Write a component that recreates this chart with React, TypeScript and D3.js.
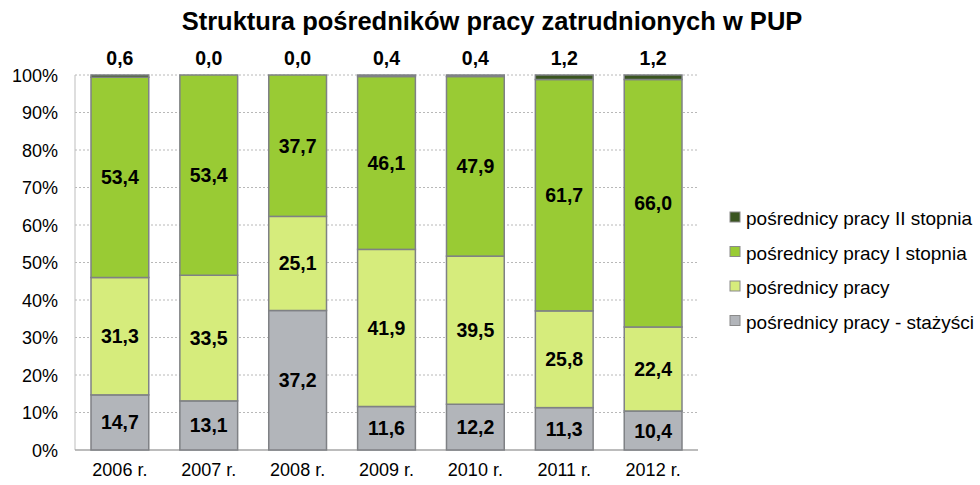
import React, { useEffect, useRef } from "react";
import * as d3 from "d3";

const years = ["2006 r.", "2007 r.", "2008 r.", "2009 r.", "2010 r.", "2011 r.", "2012 r."];
const stazysci = [14.7, 13.1, 37.2, 11.6, 12.2, 11.3, 10.4];
const posrednicy = [31.3, 33.5, 25.1, 41.9, 39.5, 25.8, 22.4];
const pierwszyStopien = [53.4, 53.4, 37.7, 46.1, 47.9, 61.7, 66.0];
const drugiStopien = [0.6, 0.0, 0.0, 0.4, 0.4, 1.2, 1.2];
const yTicks = [0, 10, 20, 30, 40, 50, 60, 70, 80, 90, 100];

const seriesNames = [
  "pośrednicy pracy - stażyści",
  "pośrednicy pracy",
  "pośrednicy pracy I stopnia",
  "pośrednicy pracy II stopnia",
];
const colors = ["#b2b5ba", "#d6ec7c", "#99cb34", "#3a5520"];

function App() {
  const ref = useRef<SVGSVGElement>(null);

  useEffect(() => {
    const svg = d3.select(ref.current);
    svg.selectAll("*").remove();

    const width = 980;
    const height = 485;
    const margin = { left: 75, right: 282, top: 75, bottom: 35 };
    const font = "'Liberation Sans', Arial, sans-serif";

    const rows = years.map((y, i) => ({
      year: y,
      s0: stazysci[i],
      s1: posrednicy[i],
      s2: pierwszyStopien[i],
      s3: drugiStopien[i],
    }));
    const keys = ["s0", "s1", "s2", "s3"];
    const stacked = d3.stack<any>().keys(keys)(rows);

    const x = d3.scaleBand()
      .domain(years)
      .range([margin.left, width - margin.right])
      .paddingInner(0.35)
      .paddingOuter(0.18);
    const yScale = d3.scaleLinear()
      .domain([0, 100])
      .range([height - margin.bottom, margin.top]);

    // title
    svg.append("text")
      .attr("x", 492)
      .attr("y", 30)
      .attr("text-anchor", "middle")
      .style("font-family", font)
      .style("font-size", "25.5px")
      .style("font-weight", "bold")
      .text("Struktura pośredników pracy zatrudnionych w PUP");

    // gridlines
    svg.append("g")
      .selectAll("line")
      .data(yTicks.filter(t => t > 0))
      .join("line")
      .attr("x1", margin.left)
      .attr("x2", width - margin.right)
      .attr("y1", d => yScale(d))
      .attr("y2", d => yScale(d))
      .attr("stroke", "#b8b8b8")
      .attr("stroke-dasharray", "2,2");

    // y axis labels
    svg.append("g")
      .selectAll("text")
      .data(yTicks)
      .join("text")
      .attr("x", 58)
      .attr("y", d => yScale(d) + 6.5)
      .attr("text-anchor", "end")
      .style("font-family", font)
      .style("font-size", "18px")
      .text(d => d + "%");

    // axis lines
    svg.append("line")
      .attr("x1", margin.left).attr("x2", margin.left)
      .attr("y1", yScale(100)).attr("y2", yScale(0))
      .attr("stroke", "#bdbdbd");
    svg.append("line")
      .attr("x1", margin.left).attr("x2", width - margin.right)
      .attr("y1", yScale(0)).attr("y2", yScale(0))
      .attr("stroke", "#a6a6a6").attr("stroke-width", 1.5);

    // bars
    const layers = svg.append("g")
      .selectAll("g")
      .data(stacked)
      .join("g")
      .attr("fill", (d, i) => colors[i]);

    layers.selectAll("rect")
      .data(d => d)
      .join("rect")
      .attr("x", d => x(d.data.year)!)
      .attr("width", x.bandwidth())
      .attr("y", d => yScale(d[1]))
      .attr("height", d => yScale(d[0]) - yScale(d[1]))
      .attr("stroke", "#7f8185")
      .attr("stroke-width", 1.5);

    // value labels inside bars
    stacked.slice(0, 3).forEach(layer => {
      svg.append("g")
        .selectAll("text")
        .data(layer)
        .join("text")
        .attr("x", d => x(d.data.year)! + x.bandwidth() / 2)
        .attr("y", d => yScale((d[0] + d[1]) / 2) + 7)
        .attr("text-anchor", "middle")
        .style("font-family", font)
        .style("font-size", "19.5px")
        .style("font-weight", "bold")
        .text(d => d3.format(".1f")(d[1] - d[0]).replace(".", ","));
    });

    // top labels (II stopnia)
    svg.append("g")
      .selectAll("text")
      .data(rows)
      .join("text")
      .attr("x", d => x(d.year)! + x.bandwidth() / 2)
      .attr("y", yScale(100) - 10)
      .attr("text-anchor", "middle")
      .style("font-family", font)
      .style("font-size", "19.5px")
      .style("font-weight", "bold")
      .text(d => d3.format(".1f")(d.s3).replace(".", ","));

    // x labels
    svg.append("g")
      .selectAll("text")
      .data(years)
      .join("text")
      .attr("x", d => x(d)! + x.bandwidth() / 2)
      .attr("y", 476)
      .attr("text-anchor", "middle")
      .style("font-family", font)
      .style("font-size", "18px")
      .text(d => d);

    // legend
    const legendItems = seriesNames.map((n, i) => ({ name: n, color: colors[i] })).reverse();
    const legend = svg.append("g")
      .selectAll("g")
      .data(legendItems)
      .join("g")
      .attr("transform", (d, i) => `translate(730, ${225 + i * 34.5})`);
    legend.append("rect")
      .attr("x", 0).attr("y", -13)
      .attr("width", 10).attr("height", 10)
      .attr("fill", d => d.color)
      .attr("stroke", "#8a8a8a");
    legend.append("text")
      .attr("x", 16)
      .attr("y", 0)
      .style("font-family", font)
      .style("font-size", "19px")
      .text(d => d.name);
  }, []);

  return <svg ref={ref} width={980} height={485} style={{ position: "absolute", left: 0, top: 0 }} />;
}

export default App;
